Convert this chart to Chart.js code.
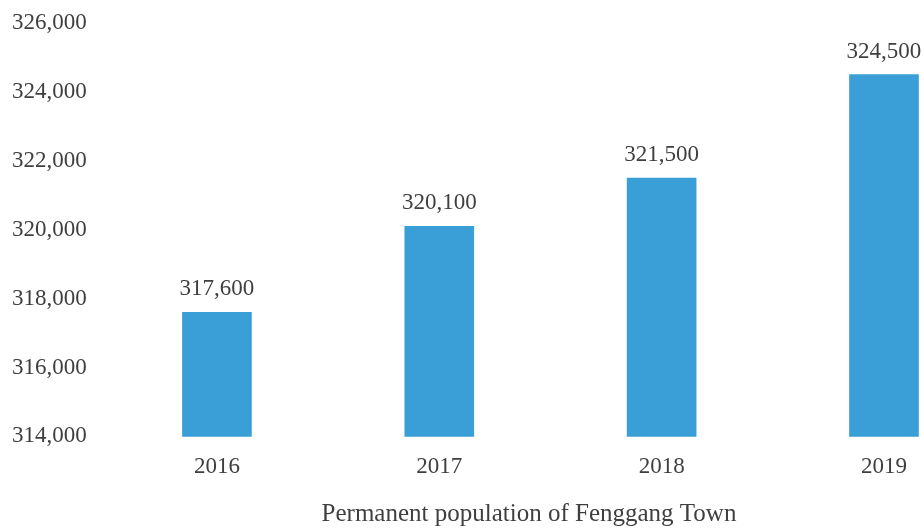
<!DOCTYPE html>
<html>
<head>
<meta charset="utf-8">
<script src="https://cdn.jsdelivr.net/npm/chart.js@4/dist/chart.umd.min.js"></script>
<style>
html,body{margin:0;padding:0;background:#fff;overflow:hidden;}
#wrap{width:924px;height:529px;position:relative;}
</style>
</head>
<body>
<div id="wrap"><canvas id="c" width="924" height="529"></canvas></div>
<script>
const years = [2016, 2017, 2018, 2019];
const population = [317600, 320100, 321500, 324500];
const yTicks = [314000, 316000, 318000, 320000, 322000, 324000, 326000];
const axisTitle = 'Permanent population of Fenggang Town';

const FONT = '"Liberation Serif", "Times New Roman", serif';
const TEXT = '#3f3f3f';
const BAR = '#3a9fd6';

const valueLabels = {
  id: 'valueLabels',
  afterDatasetsDraw(chart) {
    const ctx = chart.ctx;
    const meta = chart.getDatasetMeta(0);
    ctx.save();
    ctx.font = '23px ' + FONT;
    ctx.fillStyle = TEXT;
    ctx.textAlign = 'center';
    ctx.textBaseline = 'alphabetic';
    meta.data.forEach((bar, i) => {
      ctx.fillText(population[i].toLocaleString('en-US'), bar.x, bar.y - 17);
    });
    ctx.restore();
  }
};

new Chart(document.getElementById('c'), {
  type: 'bar',
  data: {
    datasets: [{
      data: years.map((y, i) => ({ x: y, y: population[i] })),
      backgroundColor: BAR,
      borderWidth: 0,
      barThickness: 69,
      base: yTicks[0],
      clip: false
    }]
  },
  options: {
    responsive: false,
    animation: false,
    layout: { padding: { left: 12, right: 0, top: 23, bottom: 0 } },
    plugins: { legend: { display: false }, tooltip: { enabled: false } },
    scales: {
      x: {
        type: 'linear',
        offset: false,
        min: 2015.627,
        max: 2019.18,
        grid: { display: false, drawTicks: false },
        border: { display: false },
        afterBuildTicks: s => { s.ticks = years.map(v => ({ value: v })); },
        ticks: {
          autoSkip: false,
          maxRotation: 0,
          padding: 17,
          color: TEXT,
          font: { family: FONT, size: 23 },
          callback: v => String(v)
        },
        title: {
          display: true,
          text: axisTitle,
          color: TEXT,
          font: { family: FONT, size: 25 },
          padding: { top: 1, bottom: 0 }
        }
      },
      y: {
        beginAtZero: false,
        min: yTicks[0],
        max: yTicks[yTicks.length - 1],
        grid: { display: false, drawTicks: false },
        border: { display: false },
        afterBuildTicks: s => { s.ticks = yTicks.map(v => ({ value: v })); },
        afterFit: s => { s.width = 122; },
        ticks: {
          crossAlign: 'far',
          padding: 0,
          color: TEXT,
          font: { family: FONT, size: 23 },
          callback: v => v.toLocaleString('en-US')
        }
      }
    }
  },
  plugins: [valueLabels]
});
</script>
</body>
</html>
